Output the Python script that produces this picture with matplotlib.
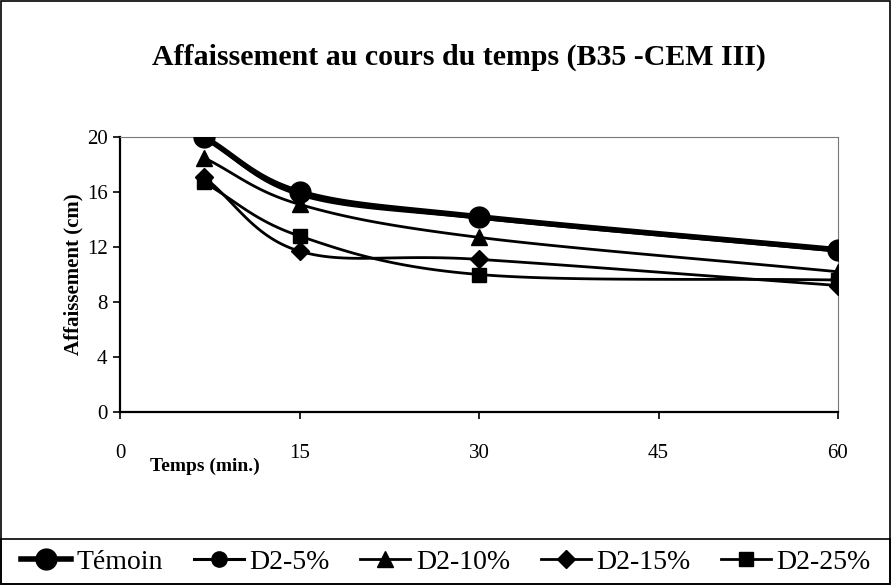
import numpy as np
import matplotlib
matplotlib.use("Agg")
import matplotlib.pyplot as plt
from matplotlib.lines import Line2D
from matplotlib.patches import Rectangle

plt.rcParams['font.family'] = ['Liberation Serif', 'DejaVu Serif']

# slump measurements (cm) versus time (min)
temps = [7, 15, 30, 60]
temoin = [20.0, 16.0, 14.2, 11.8]
d2_5 = [20.0, 15.8, 14.1, 11.7]
d2_10 = [18.5, 15.1, 12.7, 10.2]
d2_15 = [17.1, 11.7, 11.1, 9.2]
d2_25 = [16.7, 12.8, 10.0, 9.6]

series = [
    ("Témoin", temoin, 'o', 15, 4.0),
    ("D2-5%", d2_5, 'o', 11, 2.2),
    ("D2-10%", d2_10, '^', 11, 2.0),
    ("D2-15%", d2_15, 'D', 9, 2.0),
    ("D2-25%", d2_25, 's', 10, 2.0),
]


def smooth(x, y, n=30):
    # Catmull-Rom curve through the points (like the spreadsheet "smoothed line")
    x = np.asarray(x, float)
    y = np.asarray(y, float)
    px = np.concatenate([[2 * x[0] - x[1]], x, [2 * x[-1] - x[-2]]])
    py = np.concatenate([[2 * y[0] - y[1]], y, [2 * y[-1] - y[-2]]])
    xs, ys = [], []
    t = np.linspace(0, 1, n)
    for i in range(1, len(px) - 2):
        for p, out in ((px, xs), (py, ys)):
            p0, p1, p2, p3 = p[i - 1], p[i], p[i + 1], p[i + 2]
            out.extend(0.5 * ((2 * p1) + (-p0 + p2) * t
                              + (2 * p0 - 5 * p1 + 4 * p2 - p3) * t ** 2
                              + (-p0 + 3 * p1 - 3 * p2 + p3) * t ** 3))
    return xs, ys


fig = plt.figure(figsize=(8.92, 5.85), dpi=100)
ax = fig.add_axes([120 / 892, 1 - 412 / 585, 718 / 892, 275 / 585])

for name, vals, mk, ms, lw in series:
    sx, sy = smooth(temps, vals)
    ax.plot(sx, sy, color='black', lw=lw, solid_capstyle='round', zorder=2)
    ax.plot(temps, vals, ls='none', marker=mk, ms=ms, color='black', zorder=3)

ax.set_xlim(0, 60)
ax.set_ylim(0, 20)
ax.set_xticks([0, 15, 30, 45, 60])
ax.set_yticks([0, 4, 8, 12, 16, 20])
ax.tick_params(direction='out', length=5, width=1.2, labelsize=15)
ax.tick_params(axis='x', pad=18)
ax.tick_params(axis='y', pad=4)
for side in ('left', 'bottom'):
    ax.spines[side].set_linewidth(1.6)
for side in ('top', 'right'):
    ax.spines[side].set_linewidth(0.8)
    ax.spines[side].set_color('#777777')

ax.set_ylabel("Affaissement (cm)", fontsize=15, fontweight='bold', labelpad=2)
fig.text(205 / 892, 1 - 466 / 585, "Temps (min.)", fontsize=14,
         fontweight='bold', ha='center', va='center')
fig.text(459 / 892, 1 - 57 / 585, "Affaissement au cours du temps (B35 -CEM III)",
         fontsize=21.5, fontweight='bold', ha='center', va='center')

# chart border and legend box
fig.patches.append(Rectangle((0.001, 0.001), 0.997, 0.997, transform=fig.transFigure,
                             fill=False, lw=1.2, ec='black'))
fig.patches.append(Rectangle((0.001, 0.001), 0.997, 1 - 539 / 585 - 0.001,
                             transform=fig.transFigure, fill=False, lw=1.2, ec='black'))

handles = [Line2D([], [], color='black', lw=lw, marker=mk, ms=ms)
           for name, vals, mk, ms, lw in series]
fig.legend(handles, [s[0] for s in series], loc='center', ncol=5,
           bbox_to_anchor=(0.5, 1 - 562 / 585), frameon=False, fontsize=20,
           handlelength=1.8, handletextpad=0.2, columnspacing=1.1,
           borderaxespad=0)

fig.savefig("out.png", dpi=100)
